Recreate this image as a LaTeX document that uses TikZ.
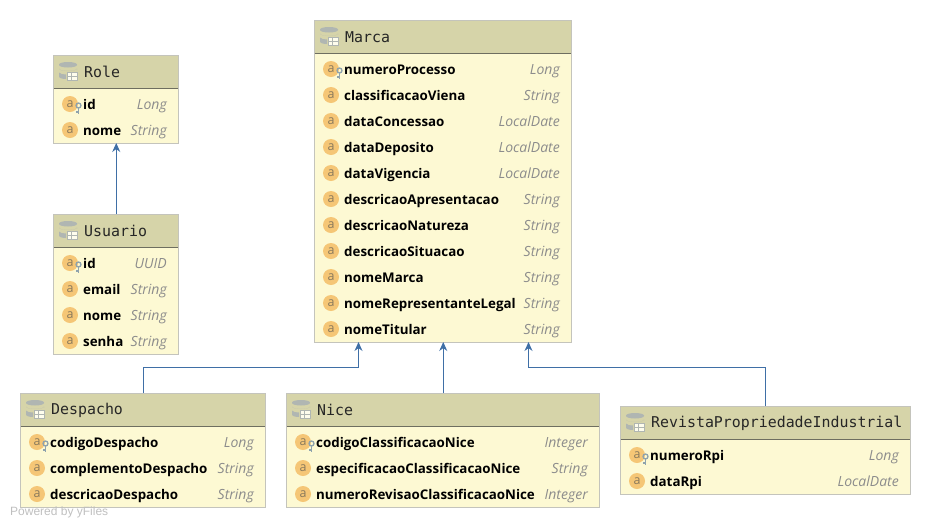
\documentclass[tikz,border=0pt]{standalone}
\usepackage{fontspec}
\setmainfont{Open Sans}
\newfontfamily\titlefont{DejaVu Sans Mono}
\newfontfamily\footfont{Liberation Sans}
\usetikzlibrary{arrows.meta}

\definecolor{boxfill}{HTML}{FDF9D3}
\definecolor{boxline}{HTML}{C4C4BC}
\definecolor{headfill}{HTML}{D6D4A9}
\definecolor{headline}{HTML}{6E6E60}
\definecolor{iconfill}{HTML}{F5C676}
\definecolor{iconletter}{HTML}{8A7A5C}
\definecolor{keycol}{HTML}{8FA3AD}
\definecolor{dbcol}{HTML}{B0B6B2}
\definecolor{typecol}{HTML}{8C8C8C}
\definecolor{conncol}{HTML}{3F6FA6}

\tikzset{
  entitybox/.style={draw=boxline,line width=1pt,fill=boxfill,anchor=north west,inner sep=0pt,outer sep=0pt},
  entityhead/.style={fill=headfill,anchor=north west,inner sep=0pt,outer sep=0pt,minimum height=33pt},
  entitytitle/.style={anchor=west,inner sep=0pt,text=black!85,font=\titlefont\fontsize{14.9}{15}\selectfont},
  fieldname/.style={anchor=west,inner sep=0pt,text height=10pt,text depth=3pt,font=\bfseries\fontsize{13.35}{13}\selectfont},
  fieldtype/.style={anchor=east,inner sep=0pt,text height=10pt,text depth=3pt,text=typecol,font=\itshape\fontsize{14}{14}\selectfont},
  fieldicon/.style={circle,fill=iconfill,minimum size=16pt,inner sep=0pt,text=iconletter,font=\fontsize{12.5}{12}\selectfont},
  conn/.style={draw=conncol,line width=1pt,-{Stealth[length=9pt,width=8pt]}},
  pics/dbicon/.style={code={
    \fill[dbcol] (-9pt,6pt) arc[start angle=180,end angle=360,x radius=9pt,y radius=2.5pt] -- (9pt,6.5pt) arc[start angle=0,end angle=180,x radius=9pt,y radius=2.5pt] -- cycle;
    \fill[dbcol] (-9pt,2.5pt) arc[start angle=180,end angle=360,x radius=9pt,y radius=2.5pt] -- (9pt,1.5pt) -- (9pt,2.5pt) arc[start angle=0,end angle=-180,x radius=9pt,y radius=2.5pt] -- cycle;
    \fill[dbcol] (-9pt,-1.5pt) .. controls (-8pt,-3pt) and (-5pt,-3.5pt) .. (-2pt,-3.5pt) -- (-2pt,-8pt) .. controls (-6pt,-8pt) and (-9pt,-7pt) .. (-9pt,-5.5pt) -- cycle;
    \draw[dbcol,fill=boxfill!40,line width=.8pt] (-.5pt,-9pt) rectangle (9.5pt,-1pt);
    \draw[dbcol,line width=.6pt] (-.5pt,-5pt) -- (9.5pt,-5pt) (3pt,-9pt) -- (3pt,-1pt);
  }},
  pics/keyicon/.style={code={
    \draw[keycol,line width=1.3pt] (0pt,0pt) circle[radius=2.5pt];
    \draw[keycol,line width=1.5pt] (0pt,-2.5pt) -- (0pt,-8pt) (0pt,-6.5pt) -- (-2.5pt,-6.5pt);
  }}
}

% name, left, top, width, rows, title, fields
\newcommand{\entity}[7]{
  \pgfmathsetmacro\boxh{36+26*#5}
  \pgfmathsetmacro\boxw{#4-.5}
  \node[entitybox,minimum width=\boxw pt,minimum height=\boxh pt] (#1) at (#2,#3) {};
  \node[entityhead,minimum width=\boxw pt-1pt] (#1-head) at ([shift={(.5pt,-.5pt)}]#1.north west) {};
  \draw[headline,line width=1pt] (#1-head.south west) -- (#1-head.south east);
  \pic at ([shift={(15pt,-16pt)}]#1.north west) {dbicon};
  \node[entitytitle] (#1-title) at ([xshift=30.5pt,yshift=0pt]#1-head.west) {#6};
  \foreach \fname/\ftype/\fkey [count=\i] in {#7}{
    \pgfmathsetmacro\rowy{23+26*\i}
    \pgfmathsetmacro\texty{\rowy+1.7}
    \node[fieldicon] (#1-icon-\i) at ([shift={(17pt,-\rowy pt)}]#1.north west) {a};
    \ifnum\fkey=1
      \pic at ([shift={(8.5pt,-1.5pt)}]#1-icon-\i.center) {keyicon};
    \fi
    \node[fieldname] (#1-name-\i) at ([shift={(30pt,-\texty pt)}]#1.north west) {\fname};
    \node[fieldtype] (#1-type-\i) at ([shift={(-11.5pt,-\texty pt)}]#1.north east) {\ftype};
  }
}

\begin{document}
\begin{tikzpicture}[x=1pt,y=-1pt]
  \useasboundingbox (0,0) rectangle (931,528);

  \entity{role}{53}{55}{126}{2}{Role}{id/Long/1,nome/String/0}
  \entity{usuario}{53}{214}{126}{4}{Usuario}{id/UUID/1,email/String/0,nome/String/0,senha/String/0}
  \entity{marca}{314}{20}{258}{11}{Marca}{numeroProcesso/Long/1,classificacaoViena/String/0,dataConcessao/LocalDate/0,dataDeposito/LocalDate/0,dataVigencia/LocalDate/0,descricaoApresentacao/String/0,descricaoNatureza/String/0,descricaoSituacao/String/0,nomeMarca/String/0,nomeRepresentanteLegal/String/0,nomeTitular/String/0}
  \entity{despacho}{20}{393}{246}{3}{Despacho}{codigoDespacho/Long/1,complementoDespacho/String/0,descricaoDespacho/String/0}
  \entity{nice}{286}{393}{314}{3}{Nice}{codigoClassificacaoNice/Integer/1,especificacaoClassificacaoNice/String/0,numeroRevisaoClassificacaoNice/Integer/0}
  \entity{revista}{620}{406}{291}{2}{RevistaPropriedadeIndustrial}{numeroRpi/Long/1,dataRpi/LocalDate/0}

  \coordinate (marca-left) at ([xshift=44.5pt]marca.south west);
  \coordinate (marca-right) at ([xshift=214.5pt]marca.south west);
  \coordinate (despacho-bend) at ([yshift=-25pt]marca-left);
  \coordinate (revista-bend) at ([yshift=-25pt]marca-right);

  \draw[conn] ([xshift=.5pt]usuario.north) -- ([xshift=.5pt]role.south);
  \draw[conn] ([xshift=.5pt]despacho.north) |- (despacho-bend) -- (marca-left);
  \draw[conn] ([xshift=.5pt]nice.north) -- ([xshift=.5pt]marca.south);
  \draw[conn] (revista.north) |- (revista-bend) -- (marca-right);

  \node[anchor=west,inner sep=0pt,text=black!25,font=\footfont\fontsize{12}{12}\selectfont] (powered) at (10,512) {Powered by yFiles};
\end{tikzpicture}
\end{document}
